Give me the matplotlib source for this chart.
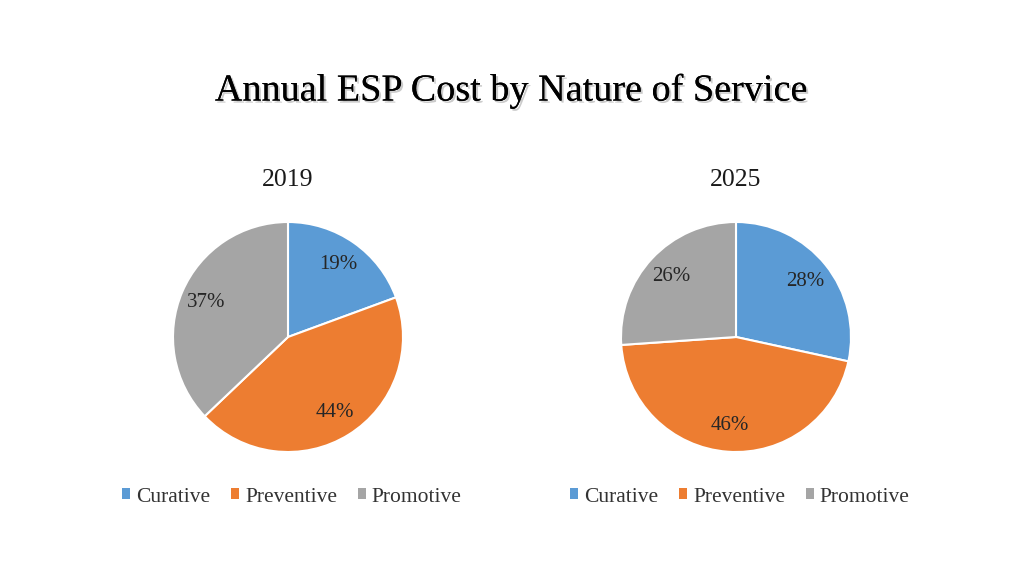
import matplotlib.pyplot as plt
import matplotlib.patheffects as pe
from matplotlib.patches import Patch

plt.rcParams['font.family'] = ['Liberation Serif', 'DejaVu Serif']

categories = ['Curative', 'Preventive', 'Promotive']
years = ['2019', '2025']
shares_2019 = [19.4, 43.5, 37.1]
shares_2025 = [28.4, 45.5, 26.1]
colors = ['#5B9BD5', '#ED7D31', '#A5A5A5']

W, H = 1024, 576
fig = plt.figure(figsize=(W / 100, H / 100), dpi=100)

fig.text(512 / W, 1 - 91 / H, 'Annual ESP Cost by Nature of Service',
         ha='center', va='center', fontsize=27.5,
         path_effects=[pe.withSimplePatchShadow(offset=(1.5, -1.5), shadow_rgbFace='#999999', alpha=0.5),
                       pe.Normal()])

centers = [288, 736]
r = 115
for cx, year, vals in zip(centers, years, [shares_2019, shares_2025]):
    ax = fig.add_axes([(cx - r) / W, 1 - (337 + r) / H, 2 * r / W, 2 * r / H])
    ax.pie(vals, colors=colors, startangle=90, counterclock=False,
           autopct=lambda p: f'{p:.0f}%', pctdistance=0.77, radius=1,
           wedgeprops=dict(edgecolor='white', linewidth=1.5),
           textprops=dict(fontsize=15, color='#262626'))
    ax.set_xlim(-1, 1)
    ax.set_ylim(-1, 1)
    ax.set_aspect('equal')
    ax.axis('off')

    fig.text(cx / W, 1 - 180 / H, year, ha='center', va='center', fontsize=18.5, color='#1a1a1a')

    handles = [Patch(facecolor=c, edgecolor='none') for c in colors]
    fig.legend(handles, categories, loc='center', bbox_to_anchor=((cx + 4) / W, 1 - 497 / H),
               ncol=3, frameon=False, fontsize=15.5, handlelength=0.38, handleheight=0.38,
               handletextpad=0.28, columnspacing=0.95, labelcolor='#333333')

fig.savefig('out.png', dpi=100)
